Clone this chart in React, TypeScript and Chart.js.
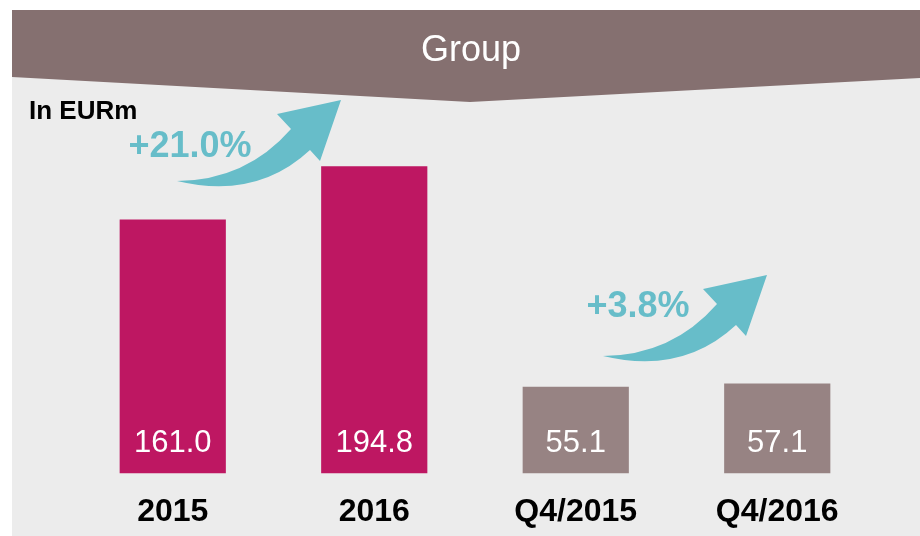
import { useEffect, useRef } from 'react';
import { Chart, registerables } from 'chart.js';

Chart.register(...registerables);

const categories = ['2015', '2016', 'Q4/2015', 'Q4/2016'];
const values = [161.0, 194.8, 55.1, 57.1];
const growthLabels = ['+21.0%', '+3.8%'];
const headerTitle = 'Group';
const unitLabel = 'In EURm';

const BAR_COLORS = ['#be1762', '#be1762', '#978383', '#978383'];
const HEADER_COLOR = '#857070';
const PANEL_COLOR = '#ececec';
const TEAL = '#67bdc9';
const FONT = "'Liberation Sans', Arial, sans-serif";

function drawArrow(ctx: CanvasRenderingContext2D, tx: number, ty: number) {
  ctx.save();
  ctx.translate(tx, ty);
  ctx.fillStyle = TEAL;
  ctx.beginPath();
  ctx.moveTo(0, 0);
  ctx.quadraticCurveTo(69, -0.5, 114, -52);
  ctx.lineTo(100, -67);
  ctx.lineTo(164, -81);
  ctx.lineTo(143, -20);
  ctx.lineTo(133, -31);
  ctx.quadraticCurveTo(79.5, 19, 0, 0);
  ctx.closePath();
  ctx.fill();
  ctx.restore();
}

const decorPlugin = {
  id: 'decor',
  beforeDraw(chart: any) {
    const ctx: CanvasRenderingContext2D = chart.ctx;
    const W = chart.width;
    const H = chart.height;
    ctx.save();
    ctx.fillStyle = '#ffffff';
    ctx.fillRect(0, 0, W, H);
    ctx.fillStyle = PANEL_COLOR;
    ctx.fillRect(12, 10, W - 12, H - 10);
    // header banner
    ctx.fillStyle = HEADER_COLOR;
    ctx.beginPath();
    ctx.moveTo(12, 10);
    ctx.lineTo(W, 10);
    ctx.lineTo(W, 78);
    ctx.lineTo(470, 102);
    ctx.lineTo(12, 77);
    ctx.closePath();
    ctx.fill();
    ctx.fillStyle = '#ffffff';
    ctx.font = `36px ${FONT}`;
    ctx.textAlign = 'center';
    ctx.textBaseline = 'middle';
    ctx.fillText(headerTitle, 471, 51);
    // unit label
    ctx.fillStyle = '#000000';
    ctx.font = `bold 26px ${FONT}`;
    ctx.textAlign = 'left';
    ctx.fillText(unitLabel, 29, 112);
    ctx.restore();
  },
  afterDatasetsDraw(chart: any) {
    const ctx: CanvasRenderingContext2D = chart.ctx;
    const meta = chart.getDatasetMeta(0);
    ctx.save();
    ctx.fillStyle = '#ffffff';
    ctx.font = `31px ${FONT}`;
    ctx.textAlign = 'center';
    ctx.textBaseline = 'middle';
    meta.data.forEach((bar: any, i: number) => {
      ctx.fillText(values[i].toFixed(1), bar.x, bar.base - 30);
    });
    // growth arrows
    drawArrow(ctx, 177, 181);
    drawArrow(ctx, 603, 356);
    ctx.fillStyle = TEAL;
    ctx.font = `bold 36px ${FONT}`;
    ctx.fillText(growthLabels[0], 190, 147);
    ctx.fillText(growthLabels[1], 638, 307);
    ctx.restore();
  },
};

export default function App() {
  const ref = useRef<HTMLCanvasElement>(null);
  useEffect(() => {
    if (!ref.current) return;
    const chart = new Chart(ref.current, {
      type: 'bar',
      data: {
        labels: categories,
        datasets: [
          {
            data: values,
            backgroundColor: BAR_COLORS,
            borderWidth: 0,
            barPercentage: 0.527,
            categoryPercentage: 1,
          },
        ],
      },
      options: {
        responsive: false,
        animation: false,
        devicePixelRatio: 1,
        layout: { padding: { left: 72, right: 42, top: 95, bottom: -14 } },
        plugins: { legend: { display: false }, tooltip: { enabled: false } },
        scales: {
          x: {
            grid: { display: false, drawTicks: false },
            border: { display: false },
            ticks: {
              color: '#000000',
              padding: 19,
              font: { family: FONT, size: 32, weight: 'bold' },
            },
          },
          y: { display: false, min: 0, max: 240 },
        },
      },
      plugins: [decorPlugin],
    } as any);
    return () => chart.destroy();
  }, []);
  return (
    <div style={{ position: 'fixed', left: 0, top: 0, width: 920, height: 536 }}>
      <canvas ref={ref} width={920} height={536} style={{ display: 'block' }} />
    </div>
  );
}
